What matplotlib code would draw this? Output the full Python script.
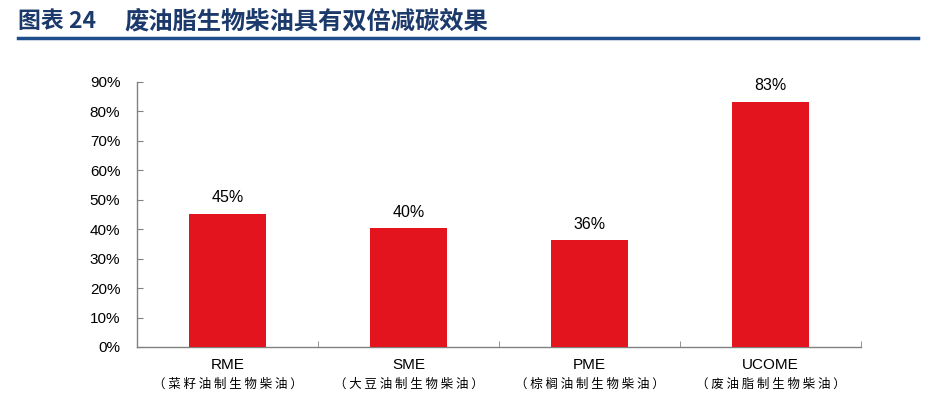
import matplotlib.pyplot as plt
import numpy as np

# Data
categories = ['RME', 'SME', 'PME', 'UCOME']
cn_names = ['菜籽油制生物柴油', '大豆油制生物柴油', '棕榈油制生物柴油', '废油脂制生物柴油']
values = [0.453, 0.403, 0.363, 0.833]
value_labels = ['45%', '40%', '36%', '83%']
title_no = '图表 24'
title = '废油脂生物柴油具有双倍减碳效果'

cjk = ['Noto Sans CJK SC', 'DejaVu Sans']

fig = plt.figure(figsize=(9.3, 3.98), dpi=100)

# Title and rule under it
fig.text(18 / 930, 1 - 21 / 398, title_no, fontsize=16.5, fontweight='bold',
         color='#1B3A6B', family=cjk, ha='left', va='center')
fig.text(124 / 930, 1 - 21 / 398, title, fontsize=17.5, fontweight='bold',
         color='#1B3A6B', family=cjk, ha='left', va='center')
fig.add_artist(plt.Line2D([18 / 930, 918 / 930], [1 - 38 / 398] * 2,
                          color='#1F4E8C', lw=2.5))

ax = fig.add_axes([137 / 930, 1 - 347 / 398, 724 / 930, 265 / 398])
x = np.arange(len(categories))
ax.bar(x, values, width=0.42, color='#E3141E', zorder=3)

for xi, v, lab in zip(x, values, value_labels):
    ax.annotate(lab, (xi, v), xytext=(0, 6), textcoords='offset points',
                ha='center', va='bottom', fontsize=11.5, family='Liberation Sans')

ax.set_xlim(-0.5, len(categories) - 0.5)
ax.set_ylim(0, 0.9)
ax.set_yticks(np.arange(0, 0.91, 0.1))
ax.set_yticklabels([f'{int(round(t * 100))}%' for t in np.arange(0, 0.91, 0.1)],
                   family='Liberation Sans', fontsize=11)
ax.tick_params(axis='y', direction='in', length=4, color='#808080', pad=12)

ax.set_xticks(x)
ax.set_xticklabels(categories, family='Liberation Sans', fontsize=11)
ax.tick_params(axis='x', length=0, pad=8)
ax.set_xticks(np.arange(0.5, len(categories), 1), minor=True)
ax.tick_params(axis='x', which='minor', direction='in', length=4, color='#808080')

for xi, name in zip(x, cn_names):
    ax.annotate('（ ' + ' '.join(name) + ' ）', (xi, 0), xytext=(0, -26.5),
                textcoords='offset points', xycoords=('data', 'axes fraction'),
                ha='center', va='center', fontsize=9,
                family=cjk)

for s in ['top', 'right']:
    ax.spines[s].set_visible(False)
for s in ['left', 'bottom']:
    ax.spines[s].set_color('#808080')
    ax.spines[s].set_linewidth(1)

plt.savefig('out.png', dpi=100)
